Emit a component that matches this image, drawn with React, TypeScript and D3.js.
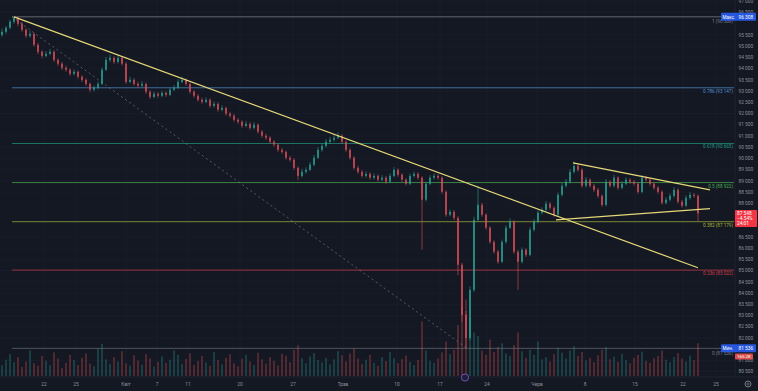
import React from 'react';
import * as d3 from 'd3';

const W = 758;
const H = 391;

// candle closes (open = previous close)
const closes = [
  95640, 95820, 96090, 96270, 96000, 95730, 95460, 95550, 95060, 94750,
  94570, 94660, 94750, 94390, 94220, 94040, 93950, 93770, 93860, 93640,
  93500, 93320, 93060, 93150, 93320, 93950, 94390, 94480, 94300, 94480,
  94220, 93410, 93500, 93320, 93240, 93320, 92970, 92740, 92880, 92790,
  92920, 92830, 93060, 93150, 93410, 93500, 93320, 92970, 92790, 92610,
  92520, 92610, 92340, 92430, 92170, 92250, 91990, 91900, 91720, 91630,
  91450, 91540, 91360, 91500, 91190, 91010, 90920, 90740, 90610, 90380,
  90290, 90030, 89940, 89580, 89220, 89400, 89490, 89720, 90030, 90380,
  90560, 90740, 90830, 90920, 91010, 90740, 90380, 90030, 89580, 89400,
  89220, 89310, 89140, 89220, 89050, 89140, 88960, 89220, 89490, 89270,
  89050, 88870, 89220, 89310, 89140, 88160, 88870, 89140, 89220, 89140,
  88510, 87490, 87620, 87350, 85260, 83030, 82000, 84140, 87260, 87930,
  87490, 86910, 86280, 85840, 85390, 86280, 86910, 87180, 85840, 85390,
  85930, 85700, 86820, 87180, 87580, 87710, 87980, 87800, 87490, 88380,
  88780, 88960, 89400, 89670, 89490, 88780, 89050, 88780, 88600, 88330,
  87930, 88960, 88780, 89140, 88690, 88870, 89050, 88960, 88870, 88510,
  89140, 89050, 88870, 88690, 88510, 88020, 88160, 88330, 88600, 88070,
  87890, 88240, 88380, 88330, 87548,
];
const firstOpen = 95500;

const highs = [
  95780, 95900, 96180, 96310, 96300, 96080, 95800, 95690, 95600, 95150,
  94820, 94780, 94880, 94820, 94460, 94300, 94130, 94020, 93960, 93920,
  93710, 93580, 93380, 93250, 93420, 94050, 94520, 94620, 94560, 94600,
  94550, 94280, 93640, 93580, 93420, 93450, 93380, 93040, 92980, 92950,
  93010, 92990, 93150, 93260, 93520, 93640, 93570, 93380, 93040, 92860,
  92700, 92720, 92680, 92540, 92500, 92360, 92310, 92080, 91980, 91800,
  91700, 91650, 91610, 91610, 91560, 91260, 91100, 90990, 90820, 90680,
  90470, 90350, 90120, 90010, 89650, 89520, 89600, 89830, 90150, 90500,
  90680, 90860, 90950, 91050, 91150, 91080, 90800, 90450, 90100, 89670,
  89480, 89420, 89390, 89330, 89300, 89250, 89220, 89330, 89610, 89560,
  89340, 89120, 89330, 89420, 89390, 89200, 88960, 89250, 89330, 89300,
  89200, 88580, 87720, 87700, 87420, 85350, 83200, 84300, 87400, 88780,
  88020, 87560, 86980, 86350, 85920, 86380, 87020, 87320, 87250, 85920,
  86030, 86000, 86930, 87290, 87680, 87820, 88100, 88060, 87870, 88480,
  88900, 89080, 89520, 89850, 89760, 89560, 89170, 89120, 88860, 88680,
  88400, 89080, 89040, 89260, 89210, 88980, 89160, 89120, 89040, 88940,
  89260, 89220, 89120, 88950, 88770, 88580, 88270, 88440, 88720, 88670,
  88150, 88350, 88500, 88460, 88400,
];

const lows = [
  95420, 95560, 95760, 96010, 95880, 95640, 95370, 95380, 94980, 94640,
  94460, 94500, 94600, 94300, 94110, 93940, 93850, 93680, 93700, 93560,
  93400, 93230, 92950, 92980, 93080, 93260, 93900, 94300, 94210, 94220,
  94130, 93320, 93350, 93240, 93150, 93170, 92880, 92650, 92680, 92700,
  92720, 92740, 92770, 93000, 93090, 93350, 93230, 92880, 92700, 92530,
  92430, 92450, 92250, 92270, 92080, 92100, 91900, 91810, 91630, 91540,
  91360, 91380, 91270, 91290, 91100, 90920, 90830, 90650, 90520, 90290,
  90200, 89940, 89850, 89490, 89040, 89150, 89320, 89430, 89650, 89970,
  90300, 90480, 90660, 90750, 90850, 90650, 90290, 89940, 89490, 89310,
  89130, 89140, 89050, 89060, 88960, 88980, 88870, 88900, 89150, 89180,
  88960, 88780, 88800, 89150, 89050, 85930, 88080, 88800, 89060, 89050,
  88420, 87400, 87420, 87260, 84800, 82700, 81536, 81900, 84050, 87180,
  87400, 86820, 86190, 85750, 85300, 85330, 86200, 86850, 85750, 84140,
  85320, 85610, 85640, 86750, 87100, 87500, 87640, 87710, 87400, 87420,
  88300, 88700, 88880, 89330, 89400, 88690, 88700, 88690, 88510, 88240,
  87840, 87860, 88690, 88700, 88600, 88620, 88800, 88870, 88780, 88420,
  88440, 88960, 88780, 88600, 88420, 87930, 87950, 88080, 88250, 87980,
  87800, 87820, 88160, 88240, 87180,
];

const volumes = [
  30, 45, 60, 38, 52, 25, 40, 70, 35, 28, 55, 42, 30, 65, 48, 22, 36, 58, 44, 30,
  50, 62, 34, 27, 75, 88, 46, 33, 52, 40, 68, 35, 29, 57, 43, 31, 60, 48, 26, 39,
  54, 36, 45, 70, 58, 33, 47, 62, 30, 41, 55, 37, 28, 66, 44, 32, 50, 60, 35, 27,
  48, 58, 40, 30, 64, 46, 34, 52, 42, 29, 61, 56, 38, 72, 85, 49, 35, 54, 63, 44,
  37, 50, 32, 46, 68, 57, 40, 62, 75, 48, 33, 45, 58, 36, 28, 52, 41, 66, 49, 35,
  47, 56, 39, 30, 44, 150, 70, 42, 36, 48, 65, 95, 60, 72, 140, 190, 210, 160, 120, 110,
  70, 58, 100, 66, 80, 90, 62, 55, 85, 120, 68, 50, 72, 58, 95, 46, 52, 40, 60, 78,
  64, 48, 70, 82, 55, 66, 43, 50, 38, 57, 72, 80, 46, 53, 39, 61, 44, 35, 50, 58,
  67, 42, 36, 49, 55, 70, 45, 38, 52, 63, 48, 40, 56, 44, 90,
];

const priceTicks = [
  97000, 96500, 95500, 95000, 94500, 94000, 93500, 93000, 92500, 92000, 91500,
  91000, 90500, 90000, 89500, 89000, 88500, 88000, 86500, 86000, 85500, 85000,
  84500, 84000, 83500, 83000, 82500, 82000, 81000, 80500,
];

// time axis labels, positioned by candle index
const timeTickPos = [10.5, 18.5, 31, 38.75, 46.5, 59.5, 72.75, 85.25, 98.75, 109.5, 121.25, 133.75, 145.75, 158.25, 170.25, 178.5];
const timeTickLabels = ['22', '25', 'Квіт', '7', '11', '20', '27', 'Трав', '10', '17', '24', 'Черв', '8', '15', '22', '25'];

// fibonacci retracement
const fibHigh = 96308;
const fibLow = 81536;
const fibStartIdx = 2.5;
const fibRatios = [0.786, 0.618, 0.5, 0.382, 0.236];
const fibPrices = [93147, 90665, 88922, 87179, 85022];
const fibLabels = ['0.786 (93 147)', '0.618 (90 665)', '0.5 (88 922)', '0.382 (87 179)', '0.236 (85 022)'];
const fibColors = ['#4f8fc9', '#1f9b83', '#4caf50', '#a4b63c', '#d03c4a'];

// drawn trendlines [idx, price]
const trendLines = [
  { a: [3, 96308], b: [174, 85125] },
  { a: [142.75, 89804], b: [177, 88600] },
  { a: [138.5, 87260], b: [177, 87760] },
];
const dashedLine = { a: [2.5, 96308], b: [116.25, 81536] };

const lastPrice = 87548;
const lastChange = '−4.54%';
const lastTimer = '24:01';

const fmt = (v: number) => `${Math.floor(v / 1000)} ${String(Math.round(v % 1000)).padStart(3, '0')}`;

const App: React.FC = () => {
  const x = d3.scaleLinear().domain([0, closes.length - 1]).range([2, 698]);
  const y = d3.scaleLinear().domain([97000, 80500]).range([1.3, 371.6]);
  const vol = d3.scaleLinear().domain([0, 220]).range([0, 80]);

  const plotRight = 735;
  const volBase = 376;
  const font = 'Roboto, "Liberation Sans", sans-serif';
  const axisCol = '#8c909c';

  const opens = closes.map((c, i) => (i === 0 ? firstOpen : closes[i - 1]));

  return (
    <svg width={W} height={H} style={{ position: 'absolute', left: 0, top: 0, background: '#141823' }} fontFamily={font}>
      <rect width={W} height={H} fill="#141823" />

      {/* grid */}
      {priceTicks.map((p) => (
        <line key={'hg' + p} x1={0} x2={plotRight} y1={y(p)} y2={y(p)} stroke="#1b2030" strokeWidth={0.6} />
      ))}
      {timeTickPos.map((t, i) => (
        <line key={'vg' + i} x1={x(t)} x2={x(t)} y1={0} y2={377} stroke="#1b2030" strokeWidth={0.6} />
      ))}

      {/* volume */}
      {volumes.map((v, i) => (
        <rect
          key={'v' + i}
          x={x(i) - 1}
          y={volBase - vol(v)}
          width={2}
          height={vol(v)}
          fill={closes[i] >= opens[i] ? '#26a69a' : '#ef5350'}
          opacity={0.28}
        />
      ))}

      {/* fib levels */}
      <line x1={x(fibStartIdx)} x2={721} y1={y(fibHigh)} y2={y(fibHigh)} stroke="#787b86" strokeWidth={1} opacity={0.8} />
      <line x1={x(fibStartIdx)} x2={721} y1={y(fibLow)} y2={y(fibLow)} stroke="#787b86" strokeWidth={1} opacity={0.6} />
      {fibPrices.map((p, i) => (
        <g key={'fib' + fibRatios[i]}>
          <line x1={x(fibStartIdx)} x2={plotRight - 1} y1={y(p)} y2={y(p)} stroke={fibColors[i]} strokeWidth={0.9} opacity={0.8} />
          <text x={733} y={y(p) + 5} fontSize={4.6} textAnchor="end" fill={fibColors[i]}>{fibLabels[i]}</text>
        </g>
      ))}
      <text x={733} y={y(fibHigh) + 6} fontSize={4.6} textAnchor="end" fill="#787b86">1 (96 308)</text>
      <text x={733} y={y(fibLow) + 7} fontSize={4.6} textAnchor="end" fill="#787b86">0 (81 536)</text>

      {/* dashed diagonal */}
      <line
        x1={x(dashedLine.a[0])} y1={y(dashedLine.a[1])}
        x2={x(dashedLine.b[0])} y2={y(dashedLine.b[1])}
        stroke="#8a8e99" strokeWidth={0.8} strokeDasharray="2,3" opacity={0.7}
      />

      {/* candles */}
      {closes.map((c, i) => {
        const o = opens[i];
        const up = c >= o;
        const col = up ? '#2aa898' : '#e0505a';
        const top = y(Math.max(o, c));
        const bot = y(Math.min(o, c));
        return (
          <g key={'c' + i} opacity={0.85}>
            <line x1={x(i)} x2={x(i)} y1={y(highs[i])} y2={y(lows[i])} stroke={col} strokeWidth={0.7} />
            <rect x={x(i) - 0.9} y={top} width={1.8} height={Math.max(0.8, bot - top)} fill={col} />
          </g>
        );
      })}

      {/* trendlines */}
      {trendLines.map((l, i) => (
        <line
          key={'tl' + i}
          x1={x(l.a[0])} y1={y(l.a[1])}
          x2={x(l.b[0])} y2={y(l.b[1])}
          stroke="#e6d877" strokeWidth={1.2}
        />
      ))}

      {/* price axis */}
      <line x1={plotRight} x2={plotRight} y1={0} y2={377} stroke="#2a2e39" strokeWidth={0.6} />
      {priceTicks.map((p) => (
        <text key={'pt' + p} x={738.5} y={y(p) + 1.7} fontSize={4.8} fill={axisCol}>{fmt(p)}</text>
      ))}

      {/* max label */}
      <rect x={721} y={y(fibHigh) - 4} width={35} height={8} rx={1} fill="#2962ff" opacity={0.85} />
      <text x={722.5} y={y(fibHigh) + 1.7} fontSize={4.6} fill="#fff">Макс.</text>
      <text x={738.5} y={y(fibHigh) + 1.7} fontSize={4.8} fill="#fff">{fmt(fibHigh)}</text>

      {/* min label */}
      <rect x={721} y={y(fibLow) - 4} width={35} height={8} rx={1} fill="#2962ff" opacity={0.85} />
      <text x={722.5} y={y(fibLow) + 1.7} fontSize={4.6} fill="#fff">Мин.</text>
      <text x={738.5} y={y(fibLow) + 1.7} fontSize={4.8} fill="#fff">{fmt(fibLow)}</text>

      {/* volume label */}
      <rect x={735} y={353.5} width={18} height={6} rx={1} fill="#ef5350" opacity={0.9} />
      <text x={737} y={358.3} fontSize={4.4} fill="#fff">165.2K</text>

      {/* last price label */}
      <rect x={735} y={y(lastPrice) - 3.5} width={22} height={17} rx={1} fill="#f23645" />
      <text x={737} y={y(lastPrice) + 1.5} fontSize={4.8} fill="#fff">{fmt(lastPrice)}</text>
      <text x={737} y={y(lastPrice) + 6.5} fontSize={4.8} fill="#fff">{lastChange}</text>
      <text x={737} y={y(lastPrice) + 11.5} fontSize={4.8} fill="#fff">{lastTimer}</text>

      {/* time axis */}
      <line x1={0} x2={W} y1={377} y2={377} stroke="#2a2e39" strokeWidth={0.6} />
      {timeTickPos.map((t, i) => (
        <text key={'tt' + i} x={x(t)} y={386} fontSize={4.8} textAnchor="middle" fill={axisCol}>{timeTickLabels[i]}</text>
      ))}
      <circle cx={465} cy={377.5} r={3.6} fill="#1c1f3a" stroke="#7e57c2" strokeWidth={0.9} />
      <circle cx={748} cy={384} r={3} fill="none" stroke={axisCol} strokeWidth={0.8} />
      <circle cx={748} cy={384} r={1.1} fill="none" stroke={axisCol} strokeWidth={0.6} />
    </svg>
  );
};

export default App;
